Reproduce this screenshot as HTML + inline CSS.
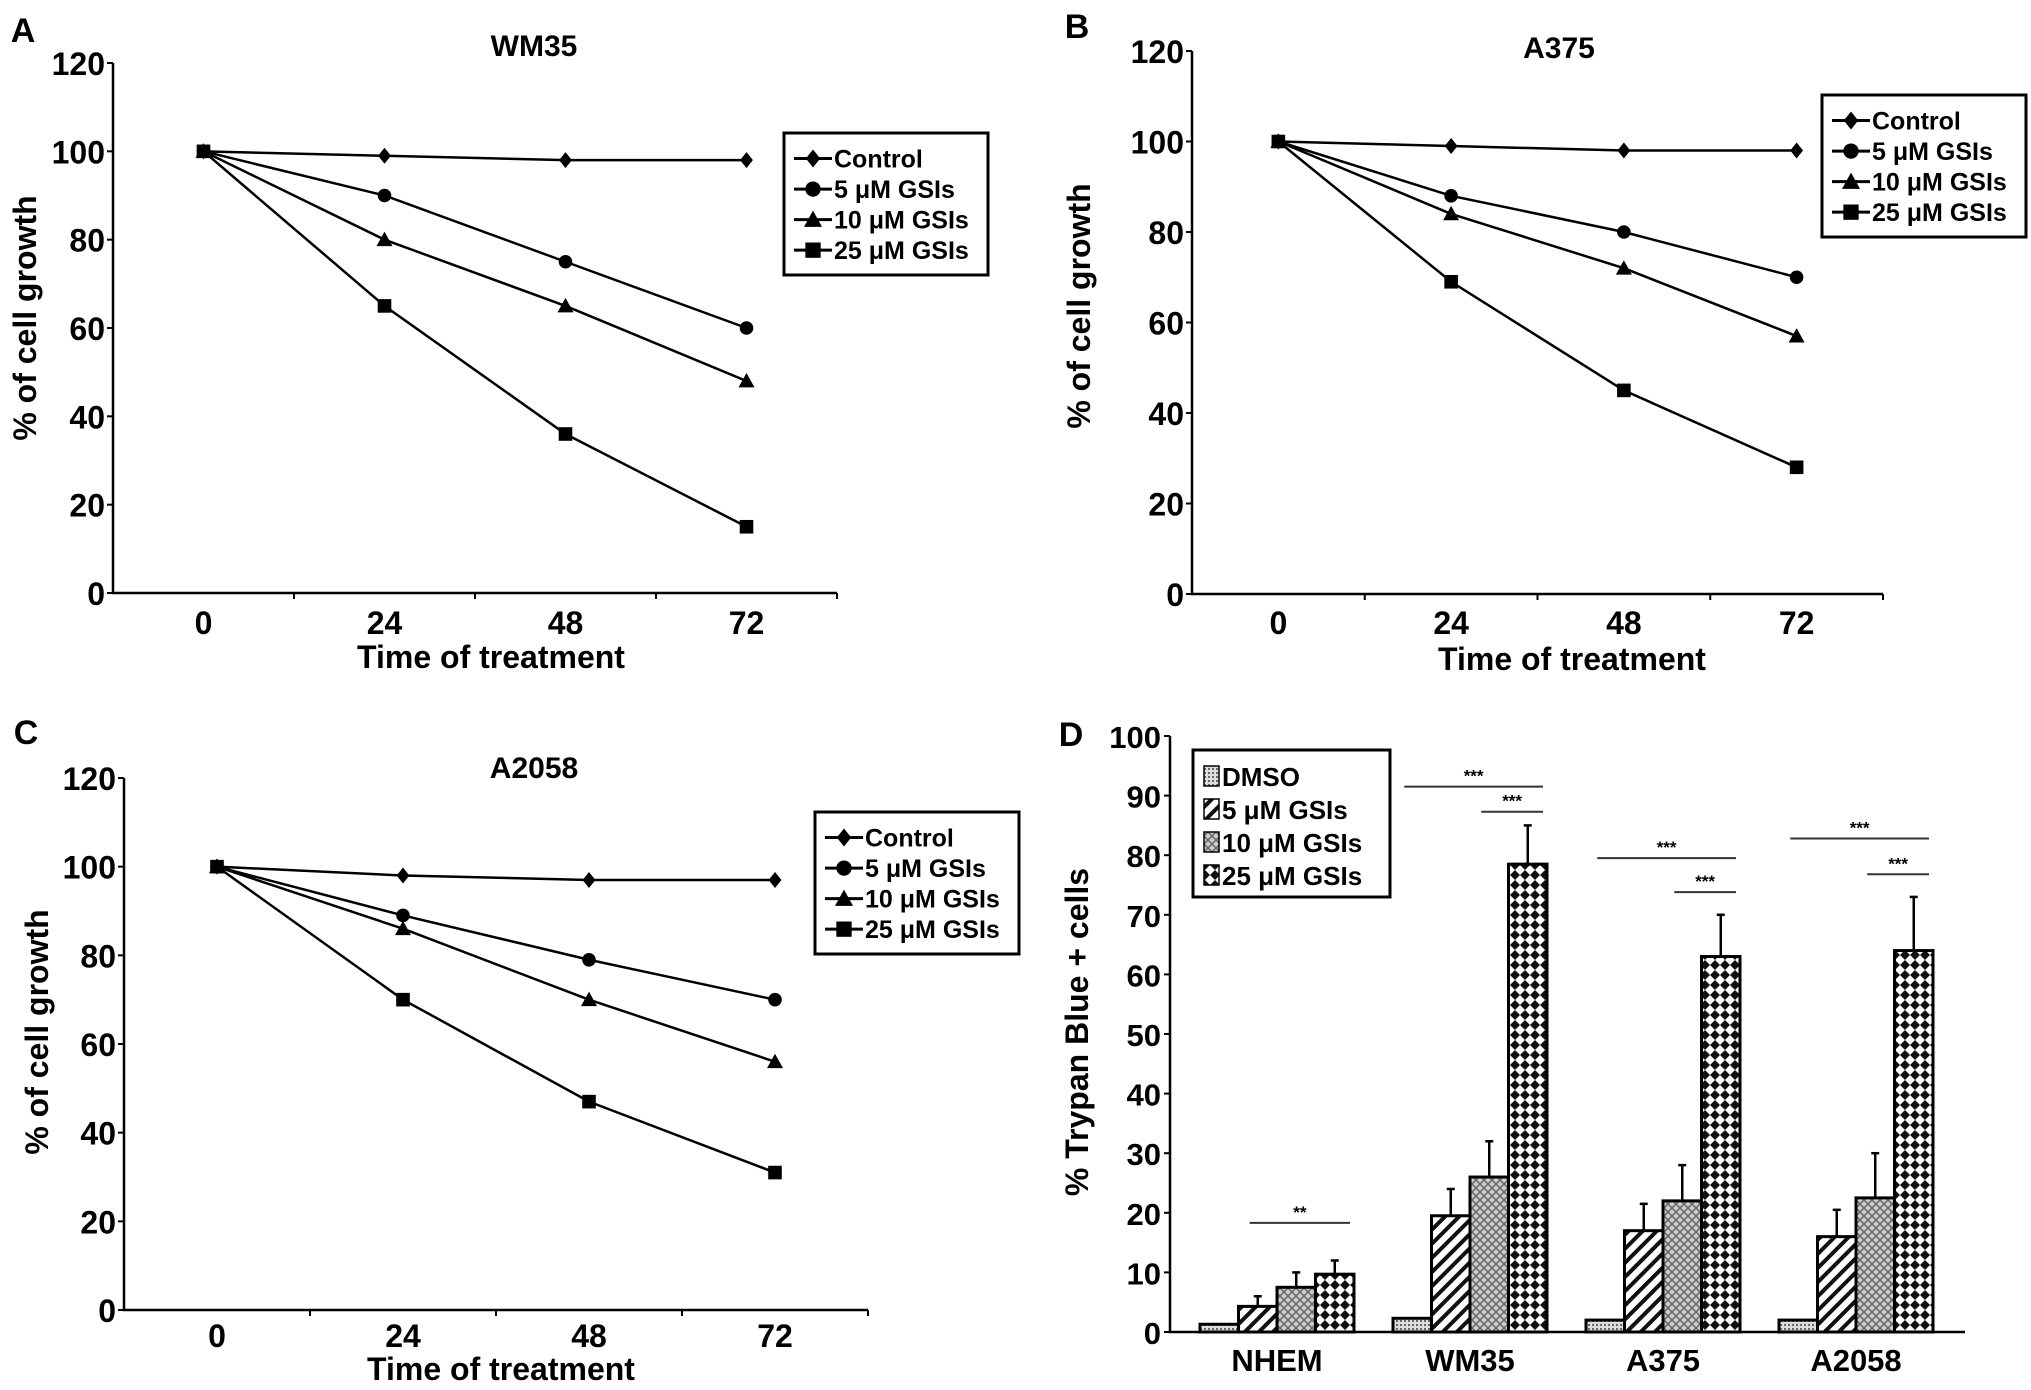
<!DOCTYPE html>
<html><head><meta charset="utf-8"><style>
body{margin:0;background:#fff;}
svg{display:block;font-family:"Liberation Sans",Arial,sans-serif;font-weight:bold;}
</style></head><body>
<svg id="fig" width="2031" height="1390" viewBox="0 0 2031 1390">
<defs>
<pattern id="pDmso" width="4" height="4" patternUnits="userSpaceOnUse"><rect width="4" height="4" fill="#ddd"/><rect width="2" height="2" fill="#666"/></pattern>
<pattern id="pHatch" width="10" height="10" patternUnits="userSpaceOnUse" patternTransform="rotate(45)"><rect width="10" height="10" fill="#fff"/><rect width="4" height="10" fill="#111"/></pattern>
<pattern id="pCross" width="8" height="8" patternUnits="userSpaceOnUse"><rect width="8" height="8" fill="#ccc"/><path d="M0 0L8 8M8 0L0 8" stroke="#666" stroke-width="1.5"/></pattern>
<pattern id="pCheck" width="10" height="10" patternUnits="userSpaceOnUse"><rect width="10" height="10" fill="#fff"/><path d="M5 0L10 5L5 10L0 5Z" fill="#111"/></pattern>
</defs>
</svg>
<script>
// ===== line chart data =====
const timeCats = ["0","24","48","72"];
const yTicksLine = [0,20,40,60,80,100,120];
const seriesNames = ["Control","5 μM GSIs","10 μM GSIs","25 μM GSIs"];
const wm35Control = [100,99,98,98];
const wm35Gsi5 = [100,90,75,60];
const wm35Gsi10 = [100,80,65,48];
const wm35Gsi25 = [100,65,36,15];
const a375Control = [100,99,98,98];
const a375Gsi5 = [100,88,80,70];
const a375Gsi10 = [100,84,72,57];
const a375Gsi25 = [100,69,45,28];
const a2058Control = [100,98,97,97];
const a2058Gsi5 = [100,89,79,70];
const a2058Gsi10 = [100,86,70,56];
const a2058Gsi25 = [100,70,47,31];
// ===== bar chart data =====
const cellLines = ["NHEM","WM35","A375","A2058"];
const barNames = ["DMSO","5 μM GSIs","10 μM GSIs","25 μM GSIs"];
const yTicksBar = [0,10,20,30,40,50,60,70,80,90,100];
const dmsoVals = [1.3,2.3,2,2];
const gsi5Vals = [4.3,19.5,17,16];
const gsi10Vals = [7.5,26,22,22.5];
const gsi25Vals = [9.7,78.5,63,64];
const dmsoErr = [0,0,0,0];
const gsi5Err = [1.7,4.5,4.5,4.5];
const gsi10Err = [2.5,6,6,7.5];
const gsi25Err = [2.3,6.5,7,9];
const sigLabels = ["**","***","***","***","***","***","***"];
const sigGroup = [0,1,1,2,2,3,3];
const sigFrom = [1,0,2,0,2,0,2];
const sigTo = [3,3,3,3,3,3,3];
const sigY = [18.3,91.5,87.3,79.5,73.8,82.8,76.8];

const NS="http://www.w3.org/2000/svg";
const svg=document.getElementById('fig');
function el(tag,attrs,parent){const e=document.createElementNS(NS,tag);for(const k in attrs)e.setAttribute(k,attrs[k]);(parent||svg).appendChild(e);return e;}
function txt(s,attrs,parent){const t=el('text',attrs,parent);t.textContent=s;return t;}

function marker(g,kind,x,y,s){
  let m;
  if(kind===0)m=el('path',{d:`M${x} ${y-s}L${x+s*0.8} ${y}L${x} ${y+s}L${x-s*0.8} ${y}Z`,fill:'#000'},g);
  else if(kind===1)m=el('circle',{cx:x,cy:y,r:s*0.85,fill:'#000'},g);
  else if(kind===2)m=el('path',{d:`M${x} ${y-s}L${x+s} ${y+s*0.8}L${x-s} ${y+s*0.8}Z`,fill:'#000'},g);
  else m=el('rect',{x:x-s*0.85,y:y-s*0.85,width:s*1.7,height:s*1.7,fill:'#000'},g);
  return m;
}

function lineChart(cfg){
  const g=el('g',{});
  
  
  const {ax,y0,y120,xEnd}=cfg;
  const binW=(xEnd-ax)/timeCats.length;
  const sx=i=>ax+binW*(i+0.5);
  const sy=v=>y0-(v/120)*(y0-y120);
  const letter=txt(cfg.letter,{x:cfg.lx,y:cfg.ly,'font-size':34,'text-anchor':'middle'},g);
  
  
  const t=txt(cfg.title,{x:cfg.tx,y:cfg.ty,'font-size':30,'text-anchor':'middle'},g);
  
  
  const axes=el('path',{d:`M${ax} ${y120}L${ax} ${y0}L${xEnd} ${y0}`,stroke:'#000','stroke-width':2.5,fill:'none'},g);
  
  
  yTicksLine.forEach(v=>{
    el('line',{x1:ax-6,x2:ax,y1:sy(v),y2:sy(v),stroke:'#000','stroke-width':2},g);
    const l=txt(String(v),{x:ax-8,y:sy(v)+12,'font-size':32,'text-anchor':'end'},g);
    
    
  });
  for(let i=1;i<=timeCats.length;i++)el('line',{x1:ax+binW*i,x2:ax+binW*i,y1:y0,y2:y0+6,stroke:'#000','stroke-width':2},g);
  timeCats.forEach((c,i)=>{
    const l=txt(c,{x:sx(i),y:cfg.tly,'font-size':32,'text-anchor':'middle'},g);
    
    
  });
  const xt=txt('Time of treatment',{x:cfg.xtx,y:cfg.xty,'font-size':32,'text-anchor':'middle'},g);
  
  
  const yt=txt('% of cell growth',{x:0,y:0,'font-size':32,'text-anchor':'middle',transform:`translate(${cfg.ytx},${cfg.yty}) rotate(-90)`},g);
  
  
  cfg.series.forEach((vals,k)=>{
    const pts=vals.map((v,i)=>`${sx(i)},${sy(v)}`).join(' ');
    const pl=el('polyline',{points:pts,fill:'none',stroke:'#000','stroke-width':2.5},g);
    
    
    vals.forEach((v,i)=>{
      const m=marker(g,k,sx(i),sy(v),8);
      
      
    });
  });
  const [bx,by,bw,bh]=cfg.legend;
  const lg=el('g',{},g);
  
  
  el('rect',{x:bx,y:by,width:bw,height:bh,fill:'#fff',stroke:'#000','stroke-width':3},lg);
  seriesNames.forEach((n,k)=>{
    const yy=by+bh*(0.18+0.215*k);
    el('line',{x1:bx+10,x2:bx+48,y1:yy,y2:yy,stroke:'#000','stroke-width':3},lg);
    marker(lg,k,bx+29,yy,9);
    const l=txt(n,{x:bx+50,y:yy+9,'font-size':25},lg);
    
    
  });
}

lineChart({name:'wm35',letter:'A',lx:23,ly:42,title:'WM35',tx:534,ty:56,ax:113,y0:593,y120:63,xEnd:837,tly:634,xtx:491,xty:668,ytx:36,yty:318,legend:[784,133,204,142],series:[wm35Control,wm35Gsi5,wm35Gsi10,wm35Gsi25]});
lineChart({name:'a375',letter:'B',lx:1077,ly:38,title:'A375',tx:1559,ty:58,ax:1192,y0:594,y120:51,xEnd:1883,tly:634,xtx:1572,xty:670,ytx:1090,yty:306,legend:[1822,95,204,142],series:[a375Control,a375Gsi5,a375Gsi10,a375Gsi25]});
lineChart({name:'a2058',letter:'C',lx:26,ly:744,title:'A2058',tx:534,ty:778,ax:124,y0:1310,y120:778,xEnd:868,tly:1347,xtx:501,xty:1380,ytx:48,yty:1032,legend:[815,812,204,142],series:[a2058Control,a2058Gsi5,a2058Gsi10,a2058Gsi25]});

// ===== bar chart D =====
(function(){
  const g=el('g',{});
  
  
  const ax=1170,y0=1332,y100=736,xEnd=1965;
  const sy=v=>y0-(v/100)*(y0-y100);
  const groupStart=1200,groupStep=193,barW=38.5;
  const bx=(gi,bi)=>groupStart+gi*groupStep+bi*barW;
  const fills=['url(#pDmso)','url(#pHatch)','url(#pCross)','url(#pCheck)'];
  const vals=[dmsoVals,gsi5Vals,gsi10Vals,gsi25Vals];
  const errs=[dmsoErr,gsi5Err,gsi10Err,gsi25Err];
  const letter=txt('D',{x:1071,y:746,'font-size':34,'text-anchor':'middle'},g);
  
  
  const axes=el('path',{d:`M${ax} ${y100}L${ax} ${y0}L${xEnd} ${y0}`,stroke:'#000','stroke-width':2.5,fill:'none'},g);
  
  
  yTicksBar.forEach(v=>{
    el('line',{x1:ax-6,x2:ax,y1:sy(v),y2:sy(v),stroke:'#000','stroke-width':2},g);
    const l=txt(String(v),{x:ax-9,y:sy(v)+12,'font-size':31,'text-anchor':'end'},g);
    
    
  });
  const yt=txt('% Trypan Blue + cells',{x:0,y:0,'font-size':32,'text-anchor':'middle',transform:'translate(1088,1032) rotate(-90)'},g);
  
  
  cellLines.forEach((c,gi)=>{
    vals.forEach((arr,bi)=>{
      const v=arr[gi],x=bx(gi,bi);
      if(errs[bi][gi]>0){
        const e=el('line',{x1:x+barW/2,x2:x+barW/2,y1:sy(v),y2:sy(v+errs[bi][gi]),stroke:'#000','stroke-width':2.5},g);
        
        
        el('line',{x1:x+barW/2-4,x2:x+barW/2+4,y1:sy(v+errs[bi][gi]),y2:sy(v+errs[bi][gi]),stroke:'#000','stroke-width':2.5},g);
      }
      const r=el('rect',{x:x,y:sy(v),width:barW,height:y0-sy(v),fill:fills[bi],stroke:'#000','stroke-width':3},g);
      
      
    });
    const l=txt(c,{x:bx(gi,2),y:1371,'font-size':31,'text-anchor':'middle'},g);
    
    
  });
  sigLabels.forEach((s,i)=>{
    const x1=bx(sigGroup[i],sigFrom[i])+barW*0.5-8,x2=bx(sigGroup[i],sigTo[i])+barW-4,y=sy(sigY[i]);
    const ln=el('line',{x1:x1,x2:x2,y1:y,y2:y,stroke:'#333','stroke-width':2},g);
    
    
    const t=txt(s,{x:(x1+x2)/2,y:y-5,'font-size':17,'text-anchor':'middle'},g);
    
    
  });
  const lg=el('g',{},g);
  
  
  el('rect',{x:1193,y:750,width:197,height:147,fill:'#fff',stroke:'#000','stroke-width':3},lg);
  barNames.forEach((n,k)=>{
    const yy=776+k*33;
    el('rect',{x:1204,y:yy-10,width:15,height:20,fill:fills[k],stroke:'#000','stroke-width':1.5},lg);
    const l=txt(n,{x:1222,y:yy+10,'font-size':26},lg);
    
    
  });
})();
</script>
</body></html>
